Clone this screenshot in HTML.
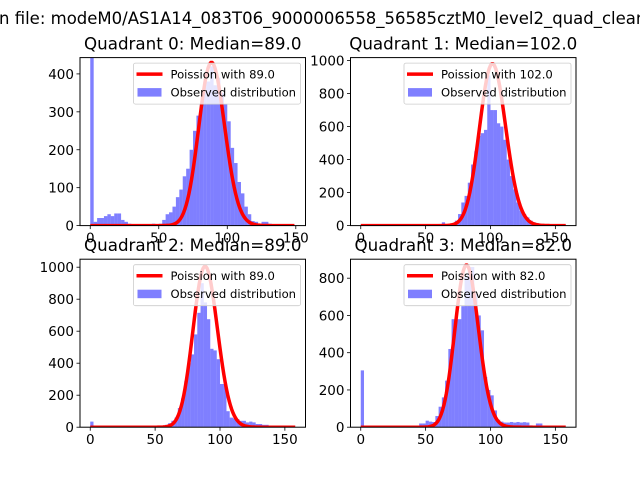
<!DOCTYPE html>
<html><head><meta charset="utf-8"><style>
html,body{margin:0;padding:0;background:#fff;}
svg{display:block;font-family:"DejaVu Sans","Liberation Sans",sans-serif;}
</style></head><body>
<svg id="fig" width="640" height="480" viewBox="0 0 640 480" xmlns="http://www.w3.org/2000/svg">
<rect x="0" y="0" width="640" height="480" fill="#fff"/>
<text x="-1" y="24" font-size="16.5" fill="#000">n file: modeM0/AS1A14_083T06_9000006558_56585cztM0_level2_quad_clean</text>
</svg>
<script>
// ---- data ----
const quadTitles = ["Quadrant 0: Median=89.0","Quadrant 1: Median=102.0","Quadrant 2: Median=89.0","Quadrant 3: Median=82.0"];
const medians = [89, 102, 89, 82];
const curvePeaks = [430, 980, 1005, 870];
const binWidth = 2.5;
const q0Bins = {0:600,2.5:10,5:20,7.5:20,10:25,12.5:30,15:25,17.5:32,20:32,22.5:15,25:10,27.5:5,30:3,32.5:3,35:3,37.5:3,40:3,42.5:3,45:5,47.5:3,50:5,52.5:15,55:30,57.5:35,60:50,62.5:75,65:95,67.5:130,70:150,72.5:200,75:250,77.5:290,80:320,82.5:380,85:380,87.5:420,90:370,92.5:390,95:350,97.5:320,100:275,102.5:205,105:165,107.5:115,110:85,112.5:50,115:30,117.5:12,120:10,122.5:5,125:10,127.5:10,130:5,132.5:3,135:3,137.5:2,140:2,142.5:2,145:2};
const q1Bins = {60:10,62.5:20,65:10,67.5:10,70:15,72.5:30,75:70,77.5:140,80:180,82.5:260,85:370,87.5:450,90:545,92.5:560,95:580,97.5:910,100:700,102.5:700,105:620,107.5:600,110:520,112.5:400,115:300,117.5:220,120:140,122.5:90,125:70,127.5:50,130:30,132.5:20,135:15,137.5:10,140:5};
const q2Bins = {0:35,55:10,57.5:15,60:25,62.5:40,65:60,67.5:120,70:180,72.5:290,75:400,77.5:455,80:580,82.5:715,85:900,87.5:780,90:675,92.5:490,95:480,97.5:425,100:270,102.5:270,105:100,107.5:60,110:55,112.5:50,115:40,117.5:40,120:30,122.5:35,125:30,127.5:20,130:20,132.5:15,135:15,137.5:5};
const q3Bins = {0:305,42.5:5,45:20,47.5:20,50:35,52.5:30,55:28,57.5:60,60:110,62.5:160,65:250,67.5:420,70:580,72.5:580,75:580,77.5:650,80:805,82.5:860,85:860,87.5:716,90:600,92.5:520,95:270,97.5:200,100:171,102.5:90,105:40,107.5:30,110:25,112.5:25,115:28,117.5:25,120:28,122.5:25,125:27,127.5:25,130:10,135:20,137.5:20,140:5};
const allBins = [q0Bins, q1Bins, q2Bins, q3Bins];
const xTicks = [0, 50, 100, 150];
const yTicks0 = [0,100,200,300,400];
const yTicks1 = [0,200,400,600,800,1000];
const yTicks2 = [0,200,400,600,800,1000];
const yTicks3 = [0,200,400,600,800];
const allYTicks = [yTicks0, yTicks1, yTicks2, yTicks3];
const xMax = [149.6, 158, 158, 158];
const yMax = [443, 1018, 1050, 902];

// ---- layout ----
const NS = "http://www.w3.org/2000/svg";
const svg = document.getElementById('fig');
const axW = 225.5, axH = 168;
const axPos = [[80,57.6],[350.5,57.6],[80,259.2],[350.5,259.2]];
function mk(tag, attrs, parent){const e=document.createElementNS(NS,tag);for(const k in attrs)e.setAttribute(k,attrs[k]);(parent||svg).appendChild(e);return e;}
function lgamma(n){let s=0;for(let i=2;i<=n;i++)s+=Math.log(i);return s;}

for(let q=0;q<4;q++){
  const [ax, ay] = axPos[q];
  const span = xMax[q];
  const x0 = -0.05*span, x1 = span*1.05;
  const sx = v => ax + (v - x0)/(x1 - x0)*axW;
  const sy = v => ay + axH - v/yMax[q]*axH;
  const g = mk('g', {});
  
  
  const cp = mk('clipPath', {id:'clip'+q}, g);
  mk('rect', {x:ax, y:ay, width:axW, height:axH}, cp);
  const plot = mk('g', {'clip-path':'url(#clip'+q+')'}, g);
  const bins = allBins[q];
  for(const k in bins){
    const s = parseFloat(k);
    const r = mk('rect', {x:sx(s), y:sy(bins[k]), width:sx(s+binWidth)-sx(s), height:sy(0)-sy(bins[k]), fill:'#0000ff', 'fill-opacity':0.5}, plot);
    
    
  }
  const lam = medians[q];
  const lp = k => k*Math.log(lam) - lam - lgamma(k);
  const peakLog = lp(lam);
  let d = '';
  for(let k=0;k<=Math.floor(span);k++){
    const v = curvePeaks[q]*Math.exp(lp(k)-peakLog);
    d += (k?'L':'M') + sx(k).toFixed(2) + ',' + sy(v).toFixed(2);
  }
  const line = mk('path', {d:d, fill:'none', stroke:'#ff0000', 'stroke-width':3.5, 'stroke-linejoin':'round'}, plot);
  
  
  const fr = mk('rect', {x:ax, y:ay, width:axW, height:axH, fill:'none', stroke:'#000', 'stroke-width':1}, g);
  
  
  xTicks.forEach(t=>{
    const x = sx(t);
    mk('line', {x1:x, x2:x, y1:ay+axH, y2:ay+axH+3.5, stroke:'#000', 'stroke-width':0.8}, g);
    const tl = mk('text', {x:x, y:ay+axH+17, 'font-size':13.5, 'text-anchor':'middle', fill:'#000'}, g);
    tl.textContent = t;
    
    
  });
  allYTicks[q].forEach(t=>{
    const y = sy(t);
    mk('line', {x1:ax-3.5, x2:ax, y1:y, y2:y, stroke:'#000', 'stroke-width':0.8}, g);
    const tl = mk('text', {x:ax-6, y:y+5, 'font-size':13.5, 'text-anchor':'end', fill:'#000'}, g);
    tl.textContent = t;
    
    
  });
  const tt = mk('text', {x:ax+axW/2, y:ay-8, 'font-size':16.7, 'text-anchor':'middle', fill:'#000'}, g);
  tt.textContent = quadTitles[q];
  
  
  const lw = 167, lx = ax+axW-5-lw, ly = ay+5.5;
  const lg = mk('g', {}, g);
  
  
  mk('rect', {x:lx, y:ly, width:lw, height:41, rx:2, fill:'#fff', 'fill-opacity':0.8, stroke:'#cccccc', 'stroke-width':0.8}, lg);
  mk('line', {x1:lx+3, x2:lx+29, y1:ly+11, y2:ly+11, stroke:'#ff0000', 'stroke-width':3.5}, lg);
  const t1 = mk('text', {x:lx+37, y:ly+15.5, 'font-size':11.6, fill:'#000'}, lg);
  t1.textContent = 'Poission with ' + lam.toFixed(1);
  
  
  mk('rect', {x:lx+4, y:ly+25, width:24, height:8.5, fill:'#0000ff', 'fill-opacity':0.5}, lg);
  const t2 = mk('text', {x:lx+37, y:ly+33.5, 'font-size':11.6, fill:'#000'}, lg);
  t2.textContent = 'Observed distribution';
  
  
}
</script>
</body></html>
